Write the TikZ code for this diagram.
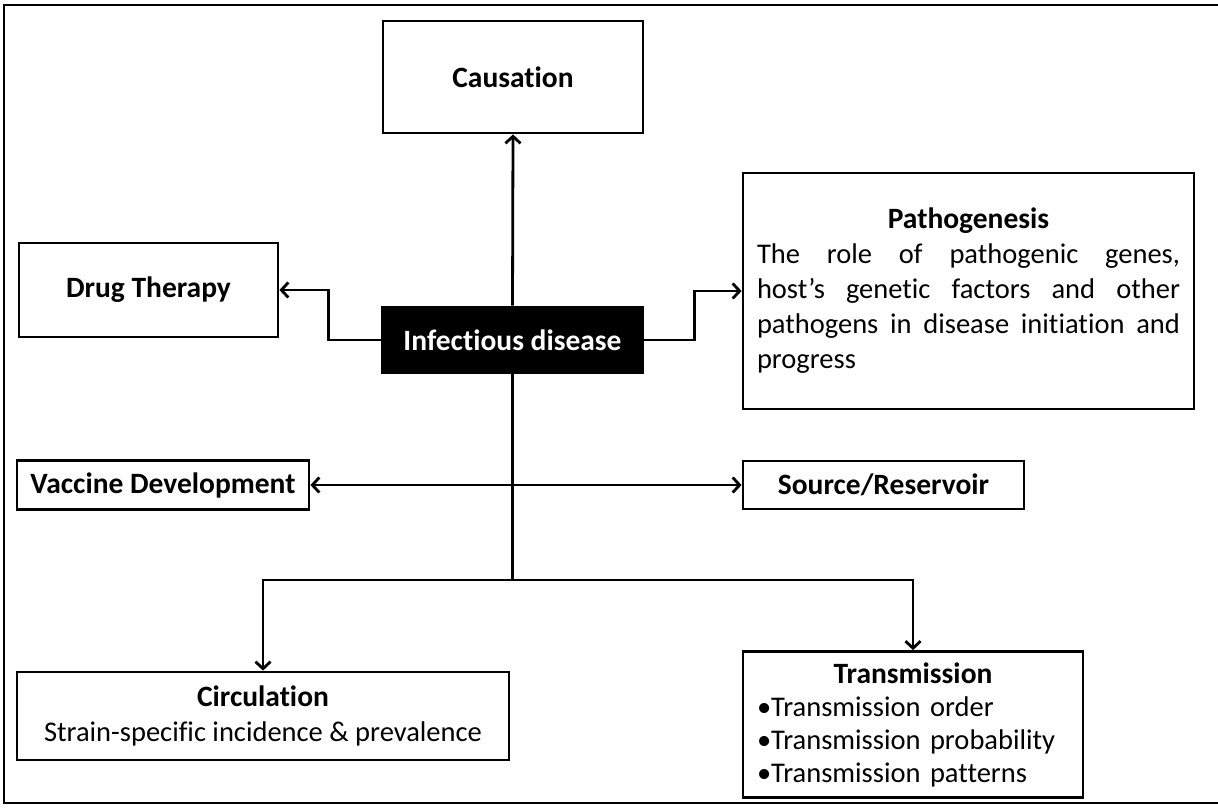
\documentclass[tikz,border=0pt]{standalone}
\usepackage{fontspec}
\setmainfont{Carlito}[Ligatures={NoCommon}]
\usetikzlibrary{arrows.meta}
\begin{document}
\begin{tikzpicture}[x=1pt,y=-1pt,
  box/.style={draw, line width=2.8pt, inner sep=0pt, align=center,
              font=\fontsize{28.5}{35}\selectfont},
  headbox/.style={box, font=\bfseries\fontsize{29.5}{35}\selectfont},
  link/.style={line width=2.8pt},
  arr/.style={link, -{Straight Barb[length=7pt,width=15pt]}},
  dblarr/.style={link, {Straight Barb[length=7pt,width=15pt]}-{Straight Barb[length=7pt,width=15pt]}}]
\useasboundingbox (0,0) rectangle (1218,807);
% outer frame (right side runs off the page)
\draw[line width=2.8pt] (1218,5) -- (4,5) -- (4,803) -- (1218,803);

% boxes
\node[headbox, minimum width=260pt, minimum height=112pt] (caus) at (513,77) {Causation};
\node[headbox, minimum width=259pt, minimum height=94pt] (drug) at (148.5,290) {Drug Therapy};
\node[box, fill=black, text=white, minimum width=261pt, minimum height=66pt,
      font=\bfseries\fontsize{29.5}{35}\selectfont] (inf) at (512.5,340) {Infectious disease};
\node[box, minimum width=451pt, minimum height=236pt, text width=423pt, align=justify,
      inner xsep=14pt] (path) at (968.5,291)
  {\makebox[\linewidth]{\bfseries\fontsize{29.5}{35}\selectfont Pathogenesis}\par
   The role of pathogenic genes,\linebreak host’s genetic factors and other\linebreak
   pathogens in disease initiation and\linebreak progress};
\node[headbox, minimum width=292pt, minimum height=49pt] (vac) at (163,485) {Vaccine Development};
\node[headbox, minimum width=281pt, minimum height=48pt] (src) at (883.5,485) {Source/Reservoir};
\node[box, minimum width=492pt, minimum height=88pt] (circ) at (263,716)
  {{\bfseries\fontsize{29.5}{35}\selectfont Circulation}\\Strain-specific incidence \& prevalence};
\node[box, minimum width=340pt, minimum height=146pt, text width=312pt, align=left,
      inner xsep=14pt, font=\fontsize{28.5}{33}\selectfont] (trans) at (913,724.5)
  {\makebox[\linewidth]{\bfseries\fontsize{29.5}{33}\selectfont Transmission}\\
   \mbox{•Transmission order}\\\mbox{•Transmission probability}\\\mbox{•Transmission patterns}};

% connectors
\coordinate (j) at (inf.south |- 0,580);
\draw[arr] (inf.north) -- (caus.south);
\draw[arr] (inf.west) -- ++(-52,0) |- (drug.east);
\draw[arr] (inf.east) -- ++(50,0) |- (path.west);
\draw[dblarr] (vac.east) -- (src.west);
\draw[link] (inf.south) -- (j);
\draw[arr] (j) -| (circ.north);
\draw[arr] (j) -| (trans.north);
\end{tikzpicture}
\end{document}
